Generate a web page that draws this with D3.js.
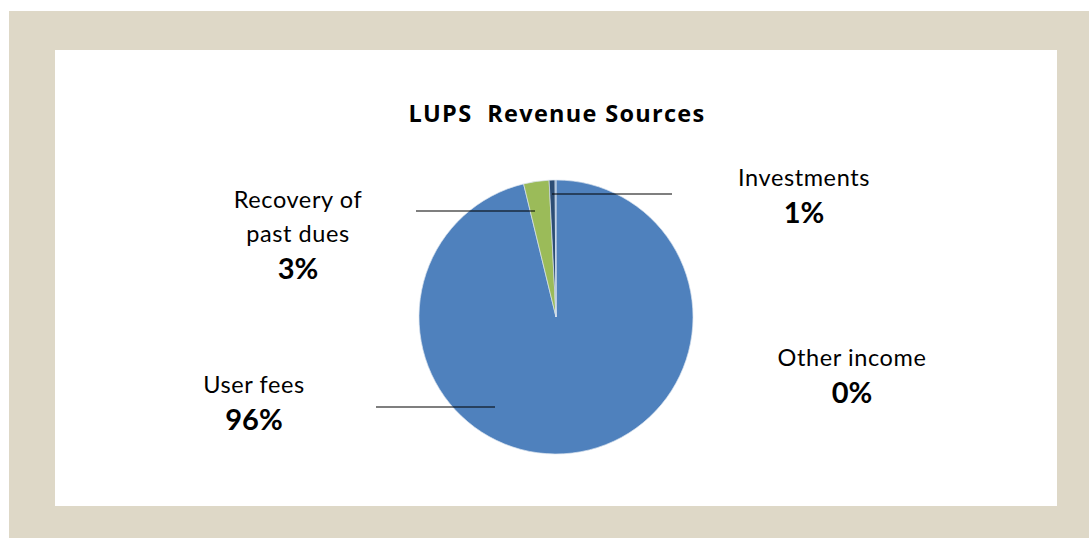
<!DOCTYPE html>
<html>
<head>
<meta charset="utf-8">
<script src="https://cdn.jsdelivr.net/npm/d3@7"></script>
<style>
  html, body { margin: 0; padding: 0; background: #ffffff; }
  svg { display: block; }
  text { font-family: Lato, "Open Sans", sans-serif; fill: #000; }
</style>
</head>
<body>
<svg id="chart" width="1089" height="538"></svg>
<script>
// Revenue sources (share of total revenue, %)
const categories = ["User fees", "Recovery of past dues", "Investments", "Other income"];
const values = [96.2, 3.0, 0.7, 0.1];
const colors = ["#4f81bd", "#9bbb59", "#2c4d75", "#4f81bd"];
const title = "LUPS  Revenue Sources";

// Label layout: name lines, text anchor point, and leader line (relative to pie centre)
const labelLayout = [
  { lines: ["User fees"], x: -302, y: 76, lead: [[-180, 90], [-61, 90]] },
  { lines: ["Recovery of", "past dues"], x: -258, y: -109, lead: [[-140, -106], [-21, -106]] },
  { lines: ["Investments"], x: 248, y: -131, lead: [[-4, -123], [116, -123]] },
  { lines: ["Other income"], x: 296, y: 49, lead: null }
];

const svg = d3.select("#chart");
const W = 1089, H = 538;

// Frame: beige border with white panel
svg.append("rect").attr("x", 9).attr("y", 11).attr("width", W - 9).attr("height", H - 11).attr("fill", "#ded8c7");
svg.append("rect").attr("x", 55).attr("y", 50).attr("width", 1002).attr("height", 456).attr("fill", "#ffffff");

// Title
svg.append("text")
  .attr("x", 557).attr("y", 122)
  .attr("text-anchor", "middle")
  .style("white-space", "pre")
  .style("font-family", "'Open Sans', Lato, sans-serif")
  .attr("font-size", 23.5).attr("font-weight", 700)
  .attr("letter-spacing", 1.3)
  .text(title);

const cx = 556, cy = 317, R = 137;
const g = svg.append("g").attr("transform", `translate(${cx},${cy})`);

const data = categories.map((c, i) => ({ name: c, value: values[i], color: colors[i], layout: labelLayout[i] }));
const total = d3.sum(values);

const pie = d3.pie().value(d => d.value).sort(null);
const arc = d3.arc().innerRadius(0).outerRadius(R);

g.selectAll("path.slice")
  .data(pie(data))
  .join("path")
  .attr("class", "slice")
  .attr("d", arc)
  .attr("fill", d => d.data.color)
  .attr("stroke", "#d9e2ee")
  .attr("stroke-width", 0.7);

const fmt = d3.format(".0%");

// Leader lines
g.selectAll("line.lead")
  .data(data.filter(d => d.layout.lead))
  .join("line")
  .attr("class", "lead")
  .attr("x1", d => d.layout.lead[0][0]).attr("y1", d => d.layout.lead[0][1])
  .attr("x2", d => d.layout.lead[1][0]).attr("y2", d => d.layout.lead[1][1])
  .attr("stroke", "#000").attr("stroke-width", 1.2);

// Labels: category name lines, then bold percentage
const labels = g.selectAll("g.label")
  .data(data)
  .join("g")
  .attr("class", "label")
  .attr("transform", d => `translate(${d.layout.x},${d.layout.y})`);

labels.each(function(d) {
  const lg = d3.select(this);
  d.layout.lines.forEach((line, i) => {
    lg.append("text")
      .attr("x", 0).attr("y", i * 34)
      .attr("text-anchor", "middle")
      .attr("font-size", 23.5)
      .attr("letter-spacing", 0.6)
      .text(line);
  });
  lg.append("text")
    .attr("x", 0).attr("y", (d.layout.lines.length - 1) * 34 + 37)
    .attr("text-anchor", "middle")
    .attr("font-size", 29).attr("font-weight", 700)
    .text(fmt(d.value / total));
});
</script>
</body>
</html>
